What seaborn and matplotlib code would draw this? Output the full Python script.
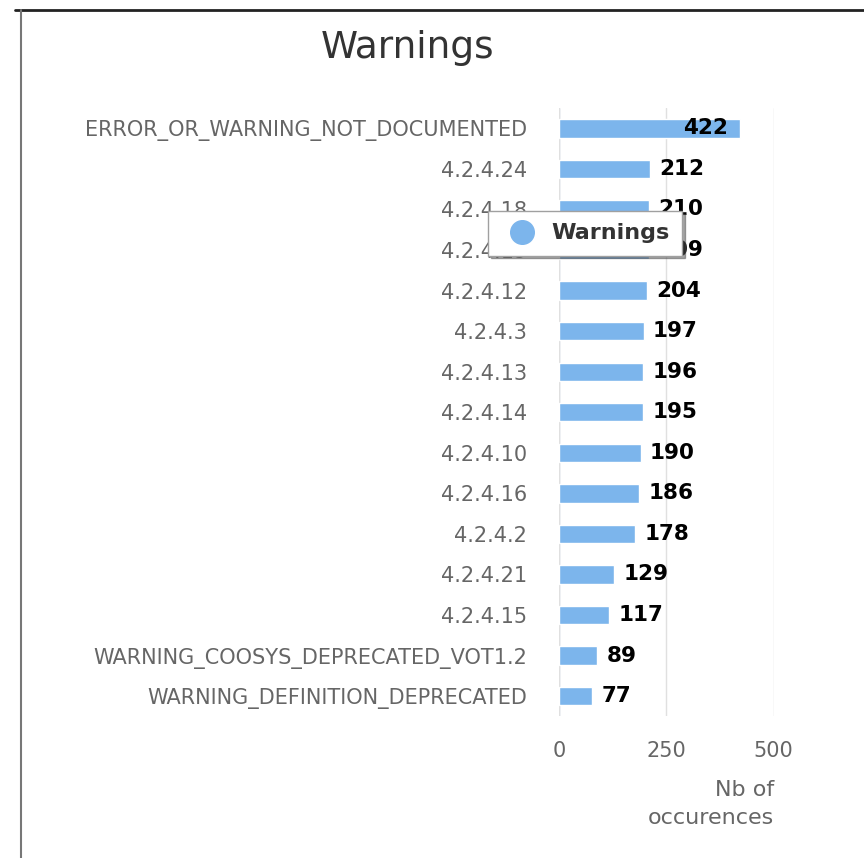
import pandas as pd
import numpy as np
import matplotlib.pyplot as plt
import seaborn as sns
from matplotlib.lines import Line2D

sns.set_theme(style="white")
plt.rcParams['font.family'] = ['DejaVu Sans']

categories = ["ERROR_OR_WARNING_NOT_DOCUMENTED", "4.2.4.24", "4.2.4.18", "4.2.4.19",
              "4.2.4.12", "4.2.4.3", "4.2.4.13", "4.2.4.14", "4.2.4.10", "4.2.4.16",
              "4.2.4.2", "4.2.4.21", "4.2.4.15", "WARNING_COOSYS_DEPRECATED_VOT1.2",
              "WARNING_DEFINITION_DEPRECATED"]
counts = [422, 212, 210, 209, 204, 197, 196, 195, 190, 186, 178, 129, 117, 89, 77]
x_ticks = [0, 250, 500]

df = pd.DataFrame({"Warning": categories, "Count": counts})

fig = plt.figure(figsize=(8.64, 8.58), dpi=100)
ax = fig.add_axes([0.647, 0.165, 0.249, 0.709])

sns.barplot(data=df, y="Warning", x="Count", orient="h", color="#7cb5ec",
            width=0.45, saturation=1, ax=ax)

ax.set_xlim(0, 501)
ax.set_xticks(x_ticks)
ax.grid(axis="x", color="#e0e0e0", linewidth=1)
ax.set_axisbelow(True)
for s in ax.spines.values():
    s.set_visible(False)
ax.axvline(0, color="#c0d0e0", linewidth=1, zorder=0)
ax.tick_params(axis="y", length=0, pad=23, labelsize=15, labelcolor="#666666")
ax.tick_params(axis="x", length=0, pad=18, labelsize=15, labelcolor="#666666")
ax.set_ylabel("")
ax.set_xlabel("Nb of\noccurences", fontsize=16, color="#666666", ha="right", linespacing=1.45)
ax.xaxis.set_label_coords(1.0, -0.105)

# value labels
for i, v in enumerate(counts):
    if v > 380:
        ax.text(v - 28, i, str(v), ha="right", va="center", fontsize=15.5,
                fontweight="bold", color="black")
    else:
        ax.text(v + 22, i, str(v), ha="left", va="center", fontsize=15.5,
                fontweight="bold", color="black")

fig.text(0.472, 0.944, "Warnings", ha="center", va="center", fontsize=27, color="#333333")

handle = Line2D([], [], marker="o", color="#7cb5ec", linestyle="none", markersize=17)
leg = fig.legend([handle], ["Warnings"], loc="center", bbox_to_anchor=(0.677, 0.728),
                 frameon=True, fancybox=False, shadow=True, handletextpad=0.3,
                 borderpad=0.55, prop={"weight": "bold", "size": 16})
leg.get_frame().set_edgecolor("#a0a0a0")
leg.get_frame().set_linewidth(1)
for t in leg.get_texts():
    t.set_color("#333333")

# frame lines around the chart area
fig.add_artist(Line2D([0.017, 1.0], [0.988, 0.988], color="#222222", linewidth=2))
fig.add_artist(Line2D([0.024, 0.024], [0.0, 0.988], color="#777777", linewidth=1.5))

fig.savefig("out.png", dpi=100)
